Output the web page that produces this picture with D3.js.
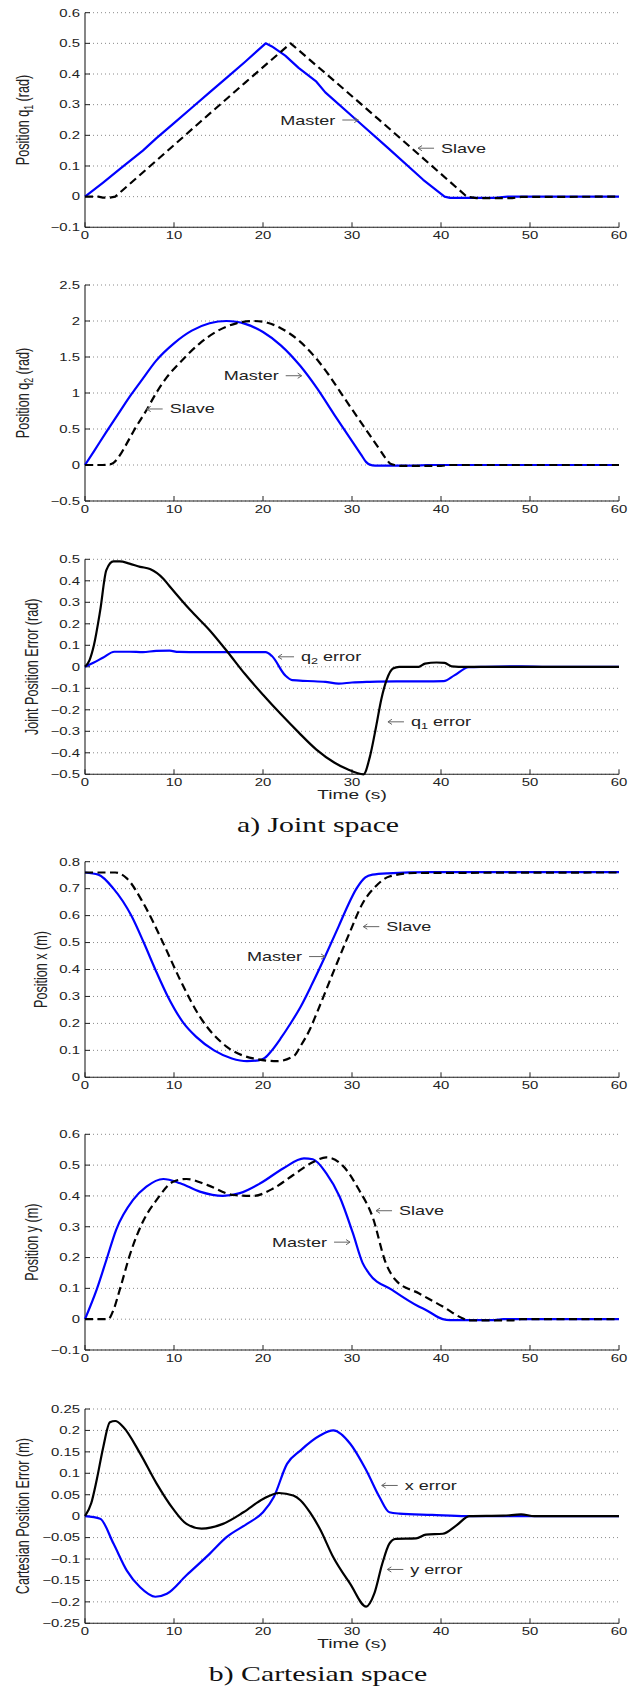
<!DOCTYPE html>
<html>
<head>
<meta charset="utf-8">
<script src="https://cdn.jsdelivr.net/npm/d3@7"></script>
<style>
  body { margin: 0; background: #fff; }
  svg { display: block; }
  text { font-family: "Liberation Sans", Arial, Helvetica, sans-serif; fill: #222; }
  .caption { font-family: "Liberation Serif", "Times New Roman", serif; fill: #111; }
</style>
</head>
<body>
<svg id="fig" width="639" height="1686"></svg>
<script>
// ---------- shared axis values ----------
const timeTicks = [0, 10, 20, 30, 40, 50, 60];
const q1Ticks = [-0.1, 0, 0.1, 0.2, 0.3, 0.4, 0.5, 0.6];
const q2Ticks = [-0.5, 0, 0.5, 1, 1.5, 2, 2.5];
const jointErrTicks = [-0.5, -0.4, -0.3, -0.2, -0.1, 0, 0.1, 0.2, 0.3, 0.4, 0.5];
const xPosTicks = [0, 0.1, 0.2, 0.3, 0.4, 0.5, 0.6, 0.7, 0.8];
const yPosTicks = [-0.1, 0, 0.1, 0.2, 0.3, 0.4, 0.5, 0.6];
const cartErrTicks = [-0.25, -0.2, -0.15, -0.1, -0.05, 0, 0.05, 0.1, 0.15, 0.2, 0.25];

// ---------- joint space: [time s, value] ----------
const q1Master = [[0,0],[2,0.045],[4,0.092],[6.5,0.15],[8,0.19],[10,0.24],[12,0.29],[14,0.34],[16,0.39],[18,0.44],[20.3,0.5],[21,0.49],[22.5,0.46],[24,0.42],[26,0.375],[27,0.34],[30.5,0.25],[34,0.16],[38,0.055],[40.4,0],[41,-0.004],[46,-0.004],[47.5,0],[60,0]];
const q1Slave = [[0,0],[1.5,0],[2,-0.003],[2.8,-0.003],[3.4,0],[8,0.117],[13,0.245],[18,0.372],[23.1,0.5],[28,0.378],[33,0.252],[38,0.125],[42.9,0],[44,-0.005],[48,-0.005],[49,-0.001],[60,0]];

const q2Master = [[0,0],[1,0.19],[2.4,0.46],[4,0.76],[5.2,0.98],[6.5,1.2],[8,1.45],[10,1.69],[12,1.866],[14,1.968],[15.9,2.0],[17,1.99],[18,1.96],[20,1.847],[22,1.662],[24.2,1.374],[26.1,1.06],[28,0.7],[30,0.333],[31,0.148],[31.6,0.04],[32,0.005],[32.6,-0.008],[37,-0.01],[38.5,0],[60,0]];
const q2Slave = [[0,0],[2,0],[2.6,0.005],[3.2,0.03],[4,0.15],[4.7,0.3],[5.5,0.48],[6.9,0.76],[8,1.0],[9.2,1.22],[10.5,1.4],[12.9,1.69],[15,1.87],[17,1.967],[19,2.0],[20.5,1.976],[22,1.9],[24.2,1.71],[26.3,1.43],[27.4,1.25],[28.6,1.03],[30,0.774],[31.6,0.486],[33,0.234],[33.8,0.09],[34.3,0.02],[34.8,0],[35.5,-0.012],[40,-0.012],[41,0],[60,0]];

const q1Error = [[0,0],[0.5,0.03],[1,0.1],[1.7,0.26],[2.4,0.45],[3.2,0.49],[3.9,0.49],[5,0.48],[6.2,0.465],[7.3,0.455],[8.8,0.41],[9.6,0.37],[11.8,0.265],[14,0.17],[16,0.07],[18,-0.035],[20,-0.13],[22,-0.22],[24,-0.305],[26,-0.385],[28,-0.445],[29.5,-0.477],[31.3,-0.5],[32,-0.42],[32.7,-0.28],[33.3,-0.15],[33.9,-0.06],[34.6,-0.008],[35.3,0],[37.5,0],[38.2,0.015],[39.5,0.02],[40.4,0.018],[41.2,0.002],[42,0],[60,0]];
const q2Error = [[0,0],[1,0.02],[2,0.042],[3.3,0.07],[5,0.07],[6.5,0.068],[8,0.074],[9.5,0.075],[10.5,0.069],[13,0.068],[16,0.068],[20.3,0.068],[21,0.05],[22.5,-0.04],[23.3,-0.062],[25,-0.066],[27,-0.07],[28.5,-0.078],[30,-0.073],[32,-0.07],[35,-0.068],[38,-0.068],[40.3,-0.067],[41.5,-0.04],[43.1,-0.002],[45,0],[49,0.002],[52,0],[60,0]];

// ---------- cartesian space: [time s, value] ----------
const xMaster = [[0,0.76],[1.5,0.752],[3.2,0.7],[5.2,0.6],[6.6,0.5],[7.9,0.4],[9.3,0.3],[11.1,0.2],[12.5,0.15],[14.5,0.1],[16.5,0.07],[18.2,0.06],[19.5,0.063],[20.2,0.072],[21,0.1],[22,0.145],[23,0.195],[24.2,0.26],[25.5,0.345],[27,0.45],[28.5,0.56],[29.5,0.635],[30.5,0.7],[31.5,0.742],[32.3,0.752],[34,0.757],[39,0.761],[60,0.761]];
const xSlave = [[0,0.76],[3.4,0.76],[4.7,0.738],[6.55,0.646],[8.8,0.497],[10.7,0.361],[12.9,0.225],[15.9,0.114],[18.9,0.07],[21.6,0.06],[23.5,0.08],[24.2,0.115],[25.3,0.18],[26,0.235],[27.9,0.39],[29.7,0.534],[31.2,0.646],[32.7,0.71],[34.2,0.745],[37,0.758],[60,0.76]];

const yMaster = [[0,0],[1.3,0.095],[2.4,0.192],[3.5,0.29],[5.4,0.387],[6.9,0.43],[8.8,0.455],[10.7,0.441],[12.9,0.414],[15.5,0.4],[17.4,0.409],[19.7,0.441],[22.3,0.49],[24.6,0.522],[25.6,0.519],[27.1,0.474],[28.6,0.398],[30.1,0.279],[31.2,0.182],[31.9,0.149],[34.5,0.095],[37.5,0.041],[38.3,0.03],[40.2,0],[41,-0.003],[46,-0.003],[47,0],[60,0]];
const ySlave = [[0,0],[2.6,0],[3.2,0.03],[3.9,0.095],[5.1,0.214],[6.6,0.322],[8.05,0.387],[9.9,0.446],[11.4,0.455],[13.7,0.436],[16.7,0.403],[18.9,0.4],[21.2,0.425],[23.4,0.468],[25.7,0.511],[27.1,0.525],[28.9,0.5],[30.8,0.419],[32.3,0.333],[33.8,0.182],[34.9,0.127],[37.5,0.084],[40.2,0.041],[42.4,0.003],[43,-0.004],[48,-0.004],[49,0],[60,0]];

const yError = [[0,0],[0.7,0.03],[1.3,0.083],[2.05,0.161],[2.8,0.219],[3.4,0.222],[4.3,0.208],[6.2,0.146],[8.05,0.076],[9.9,0.017],[11.4,-0.018],[13.1,-0.029],[15.5,-0.018],[17.8,0.009],[20,0.04],[21.8,0.054],[23.4,0.048],[24.2,0.037],[25.3,0.008],[26.4,-0.03],[27.9,-0.096],[29.8,-0.158],[31.6,-0.211],[32.5,-0.181],[33.4,-0.111],[34.2,-0.064],[34.9,-0.053],[37.2,-0.052],[38.3,-0.043],[40.2,-0.041],[41.7,-0.022],[43.2,0],[47,0.001],[49,0.004],[50.5,0],[60,0]];
const xError = [[0,0],[1.7,-0.006],[3.2,-0.064],[4.7,-0.127],[6.2,-0.166],[7.9,-0.188],[9.2,-0.181],[11.4,-0.138],[14,-0.088],[15.9,-0.049],[18.2,-0.018],[20,0.009],[21.2,0.044],[22.7,0.122],[24.2,0.153],[26.4,0.188],[27.9,0.2],[29.8,0.169],[31.6,0.107],[33.1,0.044],[34.2,0.009],[35.3,0.006],[39,0.003],[42.8,0],[60,0]];

// ---------- layout ----------
const svg = d3.select("#fig");
svg.append("rect").attr("width", 639).attr("height", 1686).attr("fill", "#fff");

const plotLeft = 85, plotRight = 619;
const SX = 1.42;              // horizontal stretch of all lettering
const BLUE = "#0000ff", BLACK = "#000";
const x = d3.scaleLinear().domain([0, 60]).range([plotLeft, plotRight]);

const panels = [
  { top: 12.7, bottom: 227.3, ticks: q1Ticks, titleX: 22.5,
    title: [["Position q"], ["1", "sub"], [" (rad)"]], curve: d3.curveLinear,
    series: [{ data: q1Master, color: BLUE }, { data: q1Slave, color: BLACK, dash: true }],
    notes: [{ parts: [["Master"]], t: 30.71, v: 0.25, dir: "right" },
            { parts: [["Slave"]], t: 37.42, v: 0.158, dir: "left" }] },
  { top: 285, bottom: 501, ticks: q2Ticks, titleX: 22.5,
    title: [["Position q"], ["2", "sub"], [" (rad)"]], curve: d3.curveMonotoneX,
    series: [{ data: q2Master, color: BLUE }, { data: q2Slave, color: BLACK, dash: true }],
    notes: [{ parts: [["Master"]], t: 24.35, v: 1.24, dir: "right" },
            { parts: [["Slave"]], t: 6.93, v: 0.778, dir: "left" }] },
  { top: 559.3, bottom: 774.3, ticks: jointErrTicks, titleX: 32,
    title: [["Joint Position Error (rad)"]], curve: d3.curveMonotoneX, timeLabel: true,
    caption: "a) Joint space",
    series: [{ data: q2Error, color: BLUE }, { data: q1Error, color: BLACK }],
    notes: [{ parts: [["q"], ["2", "sub"], [" error"]], t: 21.69, v: 0.0465, dir: "left" },
            { parts: [["q"], ["1", "sub"], [" error"]], t: 34.04, v: -0.256, dir: "left" }] },
  { top: 861.7, bottom: 1077.3, ticks: xPosTicks, titleX: 41,
    title: [["Position x (m)"]], curve: d3.curveMonotoneX,
    series: [{ data: xMaster, color: BLUE }, { data: xSlave, color: BLACK, dash: true }],
    notes: [{ parts: [["Master"]], t: 26.97, v: 0.448, dir: "right" },
            { parts: [["Slave"]], t: 31.27, v: 0.559, dir: "left" }] },
  { top: 1134.3, bottom: 1350, ticks: yPosTicks, titleX: 32,
    title: [["Position y (m)"]], curve: d3.curveMonotoneX,
    series: [{ data: yMaster, color: BLUE }, { data: ySlave, color: BLACK, dash: true }],
    notes: [{ parts: [["Master"]], t: 29.78, v: 0.25, dir: "right" },
            { parts: [["Slave"]], t: 32.7, v: 0.352, dir: "left" }] },
  { top: 1409, bottom: 1623.3, ticks: cartErrTicks, titleX: 22.5,
    title: [["Cartesian Position Error (m)"]], curve: d3.curveMonotoneX, timeLabel: true,
    caption: "b) Cartesian space",
    series: [{ data: xError, color: BLUE }, { data: yError, color: BLACK }],
    notes: [{ parts: [["x error"]], t: 33.34, v: 0.0716, dir: "left" },
            { parts: [["y error"]], t: 33.97, v: -0.1244, dir: "left" }] }
];

const fmt = v => String(Math.round(v * 1000) / 1000).replace("-", "\u2212");

// writes text made of plain and subscript runs
function addRuns(textSel, parts, subShift) {
  parts.forEach((p, i) => {
    const ts = textSel.append("tspan").text(p[0]);
    if (p[1] === "sub") {
      ts.attr("font-size", "0.7em").attr("dy", subShift);
    } else if (i > 0 && parts[i - 1][1] === "sub") {
      ts.attr("dy", -subShift);
    }
  });
}

panels.forEach(p => {
  const y = d3.scaleLinear().domain(d3.extent(p.ticks)).range([p.bottom, p.top]);
  const g = svg.append("g");

  // dotted horizontal grid
  g.append("g").selectAll("line").data(p.ticks).join("line")
    .attr("x1", plotLeft).attr("x2", plotRight)
    .attr("y1", d => y(d)).attr("y2", d => y(d))
    .attr("stroke", "#8a8a8a").attr("stroke-width", 1).attr("stroke-dasharray", "1,3");

  // axes lines
  g.append("line").attr("x1", plotLeft).attr("x2", plotLeft)
    .attr("y1", p.top).attr("y2", p.bottom).attr("stroke", "#222").attr("stroke-width", 1.1);
  g.append("line").attr("x1", plotLeft).attr("x2", plotRight)
    .attr("y1", p.bottom).attr("y2", p.bottom).attr("stroke", "#222").attr("stroke-width", 1.1);

  // ticks
  g.append("g").selectAll("line").data(p.ticks).join("line")
    .attr("x1", plotLeft).attr("x2", plotLeft + 5)
    .attr("y1", d => y(d)).attr("y2", d => y(d)).attr("stroke", "#222");
  g.append("g").selectAll("line").data(timeTicks).join("line")
    .attr("x1", d => x(d)).attr("x2", d => x(d))
    .attr("y1", p.bottom).attr("y2", p.bottom - 5).attr("stroke", "#222");

  // tick labels
  g.append("g").selectAll("g").data(p.ticks).join("g")
    .attr("transform", d => `translate(${plotLeft - 5},${y(d)}) scale(${SX},1)`)
    .append("text").attr("text-anchor", "end").attr("y", 3.8)
    .attr("font-size", 10.5).text(fmt);
  g.append("g").selectAll("g").data(timeTicks).join("g")
    .attr("transform", d => `translate(${x(d)},${p.bottom + 11.7}) scale(${SX},1)`)
    .append("text").attr("text-anchor", "middle")
    .attr("font-size", 10.5).text(fmt);

  // y-axis title
  const tt = g.append("g")
    .attr("transform", `translate(${p.titleX},${(p.top + p.bottom) / 2}) scale(${SX},1) rotate(-90)`)
    .append("text").attr("text-anchor", "middle").attr("y", 4.5).attr("font-size", 12.6);
  addRuns(tt, p.title, 3);

  // series
  const line = d3.line().x(d => x(d[0])).y(d => y(d[1])).curve(p.curve);
  p.series.forEach(s => {
    g.append("path").datum(s.data).attr("d", line)
      .attr("fill", "none").attr("stroke", s.color).attr("stroke-width", 2.2)
      .attr("stroke-linejoin", "round")
      .attr("stroke-dasharray", s.dash ? "8,4.5" : null);
  });

  // annotations with arrows
  p.notes.forEach(n => {
    const tx = x(n.t), ty = y(n.v);
    const len = 16, gap = 7, head = 4;
    let tail, textX, anchor, d;
    if (n.dir === "left") {
      tail = tx + len; textX = tail + gap; anchor = "start";
      d = `M${tail},${ty}L${tx},${ty}M${tx + head},${ty - 2.6}L${tx},${ty}L${tx + head},${ty + 2.6}`;
    } else {
      tail = tx - len; textX = tail - gap; anchor = "end";
      d = `M${tail},${ty}L${tx},${ty}M${tx - head},${ty - 2.6}L${tx},${ty}L${tx - head},${ty + 2.6}`;
    }
    g.append("path").attr("d", d).attr("fill", "none").attr("stroke", "#666").attr("stroke-width", 1);
    const t = g.append("g").attr("transform", `translate(${textX},${ty}) scale(${SX},1)`)
      .append("text").attr("text-anchor", anchor).attr("y", 4.5).attr("font-size", 12.7);
    addRuns(t, n.parts, 3);
  });

  if (p.timeLabel) {
    g.append("g").attr("transform", `translate(${x(30)},${p.bottom + 24.7}) scale(${SX},1)`)
      .append("text").attr("text-anchor", "middle").attr("font-size", 13.5).text("Time (s)");
  }
  if (p.caption) {
    g.append("g").attr("transform", `translate(318,${p.bottom + 57.7}) scale(${SX},1)`)
      .append("text").attr("class", "caption").attr("text-anchor", "middle")
      .attr("font-size", 21).text(p.caption);
  }
});
</script>
</body>
</html>
